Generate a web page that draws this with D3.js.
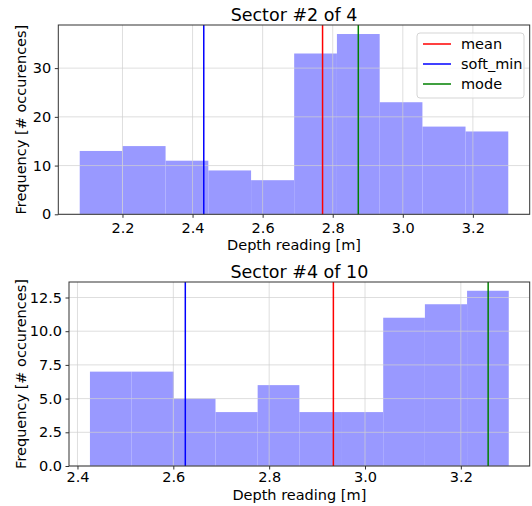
<!DOCTYPE html>
<html>
<head>
<meta charset="utf-8">
<title>Sector histograms</title>
<script src="https://d3js.org/d3.v7.min.js"></script>
<style>
  body { margin: 0; background: #fff; }
  text { font-family: "DejaVu Sans", sans-serif; fill: #000; }
</style>
</head>
<body>
<script>
// sector #2 of 4
const edgesA = [2.078, 2.200, 2.323, 2.445, 2.567, 2.690, 2.812, 2.934, 3.056, 3.179, 3.301];
const countsA = [13, 14, 11, 9, 7, 33, 37, 23, 18, 17];
const statsA = {mean: 2.771, soft_min: 2.432, mode: 2.873};
const xTicksA = [2.2, 2.4, 2.6, 2.8, 3.0, 3.2];
const yTicksA = [0, 10, 20, 30];

// sector #4 of 10
const edgesB = [2.426, 2.513, 2.601, 2.688, 2.776, 2.863, 2.950, 3.038, 3.125, 3.213, 3.300];
const countsB = [7, 7, 5, 4, 6, 4, 4, 11, 12, 13];
const statsB = {mean: 2.934, soft_min: 2.625, mode: 3.257};
const xTicksB = [2.4, 2.6, 2.8, 3.0, 3.2];
const yTicksB = [0, 2.5, 5.0, 7.5, 10.0, 12.5];

const lineNames = ["mean", "soft_min", "mode"];
const lineColors = {mean: "#ff0000", soft_min: "#0000ff", mode: "#008000"};

const svg = d3.select("body").append("svg")
    .attr("width", 532)
    .attr("height", 506);

function panel(cfg) {
    const {edges, counts, stats, xTicks, yTicks, yFmt, box, title, legend} = cfg;
    const lo = edges[0], hi = edges[edges.length - 1];
    const pad = (hi - lo) * 0.05;
    const x = d3.scaleLinear().domain([lo - pad, hi + pad]).range([box.left, box.right]);
    const y = d3.scaleLinear().domain([0, d3.max(counts) * 1.05]).range([box.bottom, box.top]);

    const bins = counts.map((c, i) => ({x0: edges[i], x1: edges[i + 1], n: c}));
    const g = svg.append("g");

    g.selectAll("rect.bar")
        .data(bins)
        .enter().append("rect")
        .attr("class", "bar")
        .attr("x", d => x(d.x0))
        .attr("width", d => x(d.x1) - x(d.x0))
        .attr("y", d => y(d.n))
        .attr("height", d => y(0) - y(d.n))
        .attr("fill", "#9999ff");

    // grid on top of bars
    g.append("g").selectAll("line")
        .data(xTicks)
        .enter().append("line")
        .attr("x1", d => x(d)).attr("x2", d => x(d))
        .attr("y1", box.top).attr("y2", box.bottom)
        .attr("stroke", "#d0d0d0").attr("stroke-opacity", 0.7).attr("stroke-width", 1);
    g.append("g").selectAll("line")
        .data(yTicks)
        .enter().append("line")
        .attr("x1", box.left).attr("x2", box.right)
        .attr("y1", d => y(d)).attr("y2", d => y(d))
        .attr("stroke", "#d0d0d0").attr("stroke-opacity", 0.7).attr("stroke-width", 1);

    lineNames.forEach(k => {
        g.append("line")
            .attr("x1", x(stats[k])).attr("x2", x(stats[k]))
            .attr("y1", box.top).attr("y2", box.bottom)
            .attr("stroke", lineColors[k]).attr("stroke-width", 1.5);
    });

    const xAxis = g.append("g")
        .attr("transform", `translate(0,${box.bottom})`)
        .call(d3.axisBottom(x).tickValues(xTicks).tickFormat(d3.format(".1f")).tickSizeOuter(0).tickSize(3.5).tickPadding(cfg.xPad));
    const yAxis = g.append("g")
        .attr("transform", `translate(${box.left},0)`)
        .call(d3.axisLeft(y).tickValues(yTicks).tickFormat(d3.format(yFmt)).tickSizeOuter(0).tickSize(3.5).tickPadding(3.5));
    [xAxis, yAxis].forEach(a => {
        a.select(".domain").remove();
        a.selectAll(".tick line").attr("stroke", "#333");
        a.selectAll("text").attr("font-size", "14.5px").attr("font-family", "DejaVu Sans, sans-serif").attr("fill", "#000");
    });

    g.append("rect")
        .attr("x", box.left).attr("y", box.top)
        .attr("width", box.right - box.left).attr("height", box.bottom - box.top)
        .attr("fill", "none").attr("stroke", "#333").attr("stroke-width", 1);

    g.append("text")
        .attr("x", (box.left + box.right) / 2).attr("y", box.top - 4)
        .attr("text-anchor", "middle").attr("font-size", "17.5px")
        .text(title);
    g.append("text")
        .attr("x", (box.left + box.right) / 2).attr("y", cfg.xLabelY)
        .attr("text-anchor", "middle").attr("font-size", "14.5px")
        .text("Depth reading [m]");
    g.append("text")
        .attr("transform", `translate(25.5,${(box.top + box.bottom) / 2}) rotate(-90)`)
        .attr("text-anchor", "middle").attr("font-size", "14.5px")
        .text("Frequency [# occurences]");

    if (legend) {
        const lg = g.append("g").attr("transform", "translate(417,33)");
        lg.append("rect")
            .attr("width", 107).attr("height", 65).attr("rx", 3)
            .attr("fill", "#fff").attr("fill-opacity", 0.8)
            .attr("stroke", "#d5d5d5");
        lineNames.forEach((k, i) => {
            const yy = 11 + i * 20;
            lg.append("line")
                .attr("x1", 6).attr("x2", 34).attr("y1", yy).attr("y2", yy)
                .attr("stroke", lineColors[k]).attr("stroke-width", 1.5);
            lg.append("text")
                .attr("x", 44).attr("y", yy + 5)
                .attr("font-size", "14.5px")
                .text(k);
        });
    }
}

panel({
    edges: edgesA, counts: countsA, stats: statsA, xTicks: xTicksA, yTicks: yTicksA, yFmt: "d",
    box: {left: 58.3, right: 529.7, top: 25, bottom: 214.3},
    title: "Sector #2 of 4", legend: true, xPad: 4.5, xLabelY: 250
});
panel({
    edges: edgesB, counts: countsB, stats: statsB, xTicks: xTicksB, yTicks: yTicksB, yFmt: ".1f",
    box: {left: 69, right: 529.7, top: 282, bottom: 466},
    title: "Sector #4 of 10", legend: false, xPad: 2, xLabelY: 500
});
</script>
</body>
</html>
